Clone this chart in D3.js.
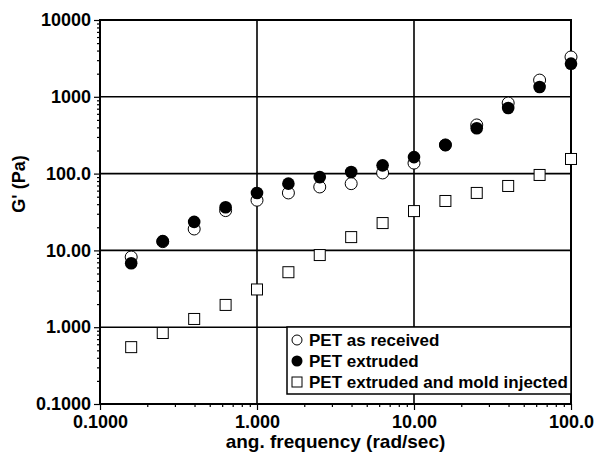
<!DOCTYPE html>
<html>
<head>
<meta charset="utf-8">
<script src="https://cdn.jsdelivr.net/npm/d3@7"></script>
<style>
  body { margin: 0; background: #fff; }
  svg text { font-family: "Liberation Sans", Arial, sans-serif; font-weight: bold; fill: #000; }
</style>
</head>
<body>
<svg id="chart" width="599" height="462"></svg>
<script>
// frequencies (rad/sec), 5 per decade
const freq = [0.158, 0.251, 0.398, 0.631, 1.0, 1.585, 2.51, 3.98, 6.31, 10.0, 15.85, 25.1, 39.8, 63.1, 100.0];

// G' (Pa) per sample
const asReceived = [8.2, 13.0, 19.0, 33.0, 45.0, 56.0, 67.0, 74.0, 102.0, 137.0, 236.0, 430.0, 830.0, 1650.0, 3300.0];
const extruded = [6.8, 13.2, 23.5, 36.5, 56.0, 74.0, 90.0, 105.0, 128.0, 164.0, 236.0, 390.0, 715.0, 1340.0, 2700.0];
const moldInjected = [0.55, 0.84, 1.28, 1.95, 3.1, 5.2, 8.7, 14.9, 22.7, 32.5, 44.0, 56.0, 69.0, 96.0, 155.0];

const xTicks = [0.1, 1, 10, 100];
const xTickLabels = ["0.1000", "1.000", "10.00", "100.0"];
const yTicks = [0.1, 1, 10, 100, 1000, 10000];
const yTickLabels = ["0.1000", "1.000", "10.00", "100.0", "1000", "10000"];

const legendLabels = ["PET as received", "PET extruded", "PET extruded and mold injected"];

const svg = d3.select("#chart");
const pLeft = 100, pRight = 571, pTop = 20, pBottom = 404;

const x = d3.scaleLog().domain([0.1, 100]).range([pLeft, pRight]);
const y = d3.scaleLog().domain([0.1, 10000]).range([pBottom, pTop]);

// minor tick values for each decade
function minors(lo, hi) {
  const out = [];
  for (let d = lo; d < hi; d *= 10) {
    for (let k = 2; k <= 9; k++) out.push(d * k);
  }
  return out;
}

// grid lines at decades
svg.append("g").selectAll("line").data(xTicks.slice(1, -1)).enter().append("line")
  .attr("x1", d => x(d)).attr("x2", d => x(d))
  .attr("y1", pTop).attr("y2", pBottom)
  .attr("stroke", "#000").attr("stroke-width", 1.6);
svg.append("g").selectAll("line").data(yTicks.slice(1, -1)).enter().append("line")
  .attr("x1", pLeft).attr("x2", pRight)
  .attr("y1", d => y(d)).attr("y2", d => y(d))
  .attr("stroke", "#000").attr("stroke-width", 1.6);

// frame
svg.append("rect")
  .attr("x", pLeft).attr("y", pTop)
  .attr("width", pRight - pLeft).attr("height", pBottom - pTop)
  .attr("fill", "none").attr("stroke", "#000").attr("stroke-width", 2);

// axes
const yAxis = svg.append("g")
  .attr("transform", `translate(${pLeft},0)`)
  .call(d3.axisLeft(y).tickValues(yTicks).tickSize(6).tickPadding(3)
    .tickFormat((d, i) => yTickLabels[i]));
svg.append("g")
  .attr("transform", `translate(${pLeft},0)`)
  .call(d3.axisLeft(y).tickValues(minors(0.1, 10000)).tickSize(3).tickFormat(""));

const xAxis = svg.append("g")
  .attr("transform", `translate(0,${pBottom})`)
  .call(d3.axisBottom(x).tickValues(xTicks).tickSize(6).tickPadding(5)
    .tickFormat((d, i) => xTickLabels[i]));
svg.append("g")
  .attr("transform", `translate(0,${pBottom})`)
  .call(d3.axisBottom(x).tickValues(minors(0.1, 100)).tickSize(3).tickFormat(""));

svg.selectAll(".domain").remove();
svg.selectAll(".tick line").attr("stroke", "#000").attr("stroke-width", 1.2);
yAxis.selectAll("text").style("font-size", "18px");
xAxis.selectAll("text").style("font-size", "18px");

// axis titles
svg.append("text")
  .attr("x", (pLeft + pRight) / 2).attr("y", 448)
  .attr("text-anchor", "middle")
  .style("font-size", "19px")
  .text("ang. frequency (rad/sec)");
svg.append("text")
  .attr("transform", "translate(25,184) rotate(-90)")
  .attr("text-anchor", "middle")
  .style("font-size", "18px")
  .text("G' (Pa)");

// data
const pts = svg.append("g");
pts.selectAll("rect.sq").data(freq).enter().append("rect")
  .attr("class", "sq")
  .attr("x", d => x(d) - 5.5).attr("y", (d, i) => y(moldInjected[i]) - 5.5)
  .attr("width", 11).attr("height", 11)
  .attr("fill", "#fff").attr("stroke", "#000").attr("stroke-width", 1);
pts.selectAll("circle.open").data(freq).enter().append("circle")
  .attr("class", "open")
  .attr("cx", d => x(d)).attr("cy", (d, i) => y(asReceived[i]))
  .attr("r", 6)
  .attr("fill", "#fff").attr("stroke", "#000").attr("stroke-width", 1);
pts.selectAll("circle.fill").data(freq).enter().append("circle")
  .attr("class", "fill")
  .attr("cx", d => x(d)).attr("cy", (d, i) => y(extruded[i]))
  .attr("r", 6.3)
  .attr("fill", "#000");

// legend
const lg = svg.append("g");
lg.append("rect")
  .attr("x", 287).attr("y", 327).attr("width", pRight - 287).attr("height", 67)
  .attr("fill", "#fff").attr("stroke", "#000").attr("stroke-width", 1.5);
const rowY = [340, 361, 382];
legendLabels.forEach((label, i) => {
  if (i === 0) lg.append("circle").attr("cx", 297).attr("cy", rowY[i]).attr("r", 5).attr("fill", "#fff").attr("stroke", "#000");
  if (i === 1) lg.append("circle").attr("cx", 297).attr("cy", rowY[i]).attr("r", 5.5).attr("fill", "#000");
  if (i === 2) lg.append("rect").attr("x", 292).attr("y", rowY[i] - 5).attr("width", 10).attr("height", 10).attr("fill", "#fff").attr("stroke", "#000");
  lg.append("text")
    .attr("x", 309).attr("y", rowY[i] + 6)
    .style("font-size", "17px")
    .text(label);
});
</script>
</body>
</html>
